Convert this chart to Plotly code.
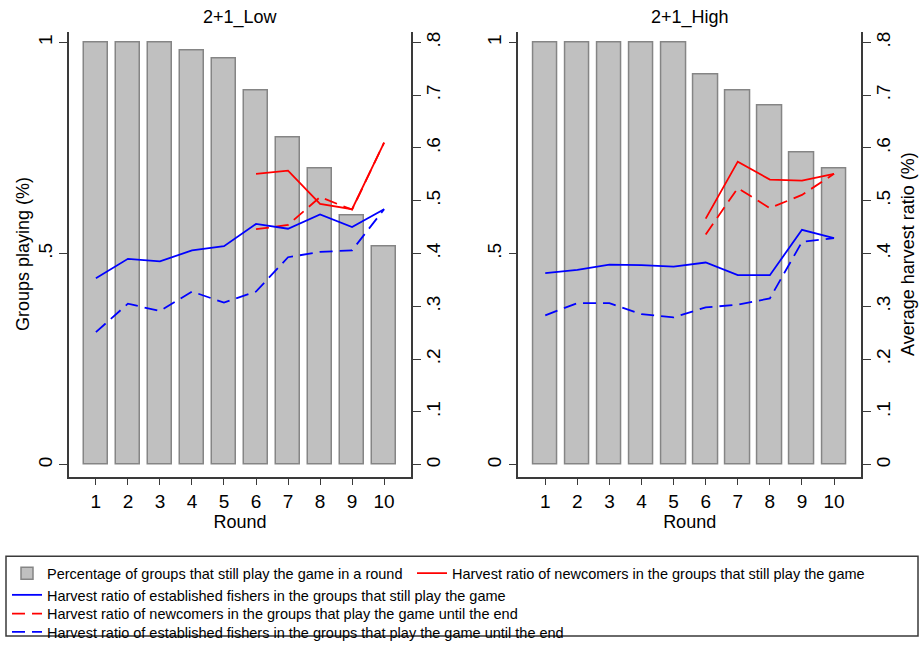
import plotly.graph_objects as go

rounds = [1, 2, 3, 4, 5, 6, 7, 8, 9, 10]

# Share of groups still playing (left axis)
low_groups = [1.0, 1.0, 1.0, 0.980, 0.961, 0.887, 0.776, 0.702, 0.590, 0.517]
high_groups = [1.0, 1.0, 1.0, 1.0, 1.0, 0.923, 0.887, 0.850, 0.739, 0.702]

# Harvest ratios (right axis)
low_new_still = [None, None, None, None, None, 0.551, 0.557, 0.494, 0.484, 0.610]
low_est_still = [0.353, 0.390, 0.385, 0.406, 0.414, 0.456, 0.447, 0.474, 0.450, 0.484]
low_new_end = [None, None, None, None, None, 0.446, 0.454, 0.507, 0.483, 0.610]
low_est_end = [0.251, 0.305, 0.291, 0.328, 0.307, 0.328, 0.393, 0.403, 0.406, 0.484]

high_new_still = [None, None, None, None, None, 0.466, 0.574, 0.540, 0.538, 0.551]
high_est_still = [0.363, 0.369, 0.379, 0.378, 0.375, 0.383, 0.359, 0.359, 0.445, 0.429]
high_new_end = [None, None, None, None, None, 0.436, 0.524, 0.486, 0.511, 0.551]
high_est_end = [0.283, 0.306, 0.306, 0.285, 0.279, 0.298, 0.303, 0.315, 0.422, 0.429]

panel_titles = ["2+1_Low", "2+1_High"]
left_tickvals = [0, 0.5, 1]
left_ticktext = ["0", ".5", "1"]
right_tickvals = [0, 0.1, 0.2, 0.3, 0.4, 0.5, 0.6, 0.7, 0.8]
right_ticktext = ["0", ".1", ".2", ".3", ".4", ".5", ".6", ".7", ".8"]

names = {
    "bar": "Percentage of groups that still play the game in a round",
    "new_still": "Harvest ratio of newcomers in the groups that still play the game",
    "est_still": "Harvest ratio of established fishers in the groups that still play the game",
    "new_end": "Harvest ratio of newcomers in the groups that play the game until the end",
    "est_end": "Harvest ratio of established fishers in the groups that play the game until the end",
}

W, H = 922, 648
FONT = "Arial, Liberation Sans, sans-serif"
AX = "#3a3a3a"
DASH = "13px,7px"

fig = go.Figure()

panels = [
    (low_groups, low_new_still, low_est_still, low_new_end, low_est_end, "x", "y", "y2", True),
    (high_groups, high_new_still, high_est_still, high_new_end, high_est_end, "x2", "y3", "y4", False),
]

for groups, ns, es, ne, ee, xa, ya, ya2, show in panels:
    fig.add_trace(go.Bar(
        x=rounds, y=groups, xaxis=xa, yaxis=ya, width=0.76,
        marker=dict(color="#c0c0c0", line=dict(color="#858585", width=1.5)),
        name=names["bar"], showlegend=show, legend="legend",
    ))
    fig.add_trace(go.Scatter(
        x=rounds, y=ne, xaxis=xa, yaxis=ya2, mode="lines",
        line=dict(color="#ff0000", width=1.8, dash=DASH),
        name=names["new_end"], showlegend=show, legend="legend3",
    ))
    fig.add_trace(go.Scatter(
        x=rounds, y=ee, xaxis=xa, yaxis=ya2, mode="lines",
        line=dict(color="#0000ff", width=1.8, dash=DASH),
        name=names["est_end"], showlegend=show, legend="legend4",
    ))
    fig.add_trace(go.Scatter(
        x=rounds, y=ns, xaxis=xa, yaxis=ya2, mode="lines",
        line=dict(color="#ff0000", width=1.8),
        name=names["new_still"], showlegend=show, legend="legend5",
    ))
    fig.add_trace(go.Scatter(
        x=rounds, y=es, xaxis=xa, yaxis=ya2, mode="lines",
        line=dict(color="#0000ff", width=1.8),
        name=names["est_still"], showlegend=show, legend="legend2",
    ))

y_top = 1 - 32 / H
y_bot = 1 - 484 / H
dom_l = [69 / W, 411 / W]
dom_r = [518.3 / W, 861 / W]

tickfont = dict(family=FONT, size=19, color="#000")
titlefont = dict(family=FONT, size=18, color="#000")


def xaxis(domain, anchor):
    return dict(
        domain=domain, anchor=anchor, range=[0.16, 10.84], automargin=False,
        tickvals=rounds, ticks="outside", ticklen=7, tickwidth=1.3, tickcolor=AX,
        showline=True, linecolor=AX, linewidth=1.5, showgrid=False, zeroline=False,
        tickfont=tickfont, title=dict(text="Round", font=titlefont, standoff=0),
    )


def yleft(anchor, title=None):
    d = dict(
        domain=[y_bot, y_top], anchor=anchor, range=[-0.028, 1.026], side="left",
        automargin=False,
        tickvals=left_tickvals, ticktext=left_ticktext, tickangle=-90,
        ticks="outside", ticklen=8, tickwidth=1.3, tickcolor=AX,
        showline=True, linecolor=AX, linewidth=1.5, showgrid=False, zeroline=False,
        tickfont=tickfont,
    )
    if title:
        d["title"] = dict(text=title, font=titlefont, standoff=0)
    return d


def yright(overlay, anchor, title=None):
    d = dict(
        overlaying=overlay, anchor=anchor, side="right", range=[-0.0224, 0.8205],
        automargin=False, ticklabelstandoff=-4,
        tickvals=right_tickvals, ticktext=right_ticktext, tickangle=-90,
        ticks="outside", ticklen=8, tickwidth=1.3, tickcolor=AX,
        showline=True, linecolor=AX, linewidth=1.5, showgrid=False, zeroline=False,
        tickfont=tickfont,
    )
    if title:
        d["title"] = dict(text=title, font=titlefont, standoff=9)
    return d


annotations = []
for title, dom in zip(panel_titles, [dom_l, dom_r]):
    annotations.append(dict(
        text=title, x=(dom[0] + dom[1]) / 2, y=1 - 18 / H, xref="paper", yref="paper",
        xanchor="center", yanchor="middle", showarrow=False,
        font=dict(family=FONT, size=18, color="#000"),
    ))

legfont = dict(family=FONT, size=14.5, color="#000")


def leg(left_px, top_px):
    return dict(
        orientation="v", x=left_px / W, y=1 - top_px / H, xanchor="left", yanchor="top",
        font=legfont, bgcolor="rgba(0,0,0,0)", itemwidth=30, tracegroupgap=0,
    )


fig.update_layout(
    width=W, height=H,
    margin=dict(l=0, r=0, t=0, b=0),
    paper_bgcolor="white", plot_bgcolor="white",
    bargap=0,
    xaxis=xaxis(dom_l, "y"),
    yaxis=yleft("x", "Groups playing (%)"),
    yaxis2=yright("y", "x"),
    xaxis2=xaxis(dom_r, "y3"),
    yaxis3=yleft("x2"),
    yaxis4=yright("y3", "x2", "Average harvest ratio (%)"),
    annotations=annotations,
    legend=leg(7, 566),
    legend5=leg(412, 566),
    legend2=leg(7, 588),
    legend3=leg(7, 607),
    legend4=leg(7, 626),
    shapes=[dict(
        type="rect", xref="paper", yref="paper",
        x0=6 / W, x1=918 / W, y0=1 - 646 / H, y1=1 - 565 / H,
        line=dict(color="#3a3a3a", width=1.5), fillcolor="rgba(0,0,0,0)",
    )],
)

fig.write_html(
    "out.html",
    config={"displayModeBar": False},
    post_script="document.body.style.margin='0';document.body.style.padding='0';",
)
